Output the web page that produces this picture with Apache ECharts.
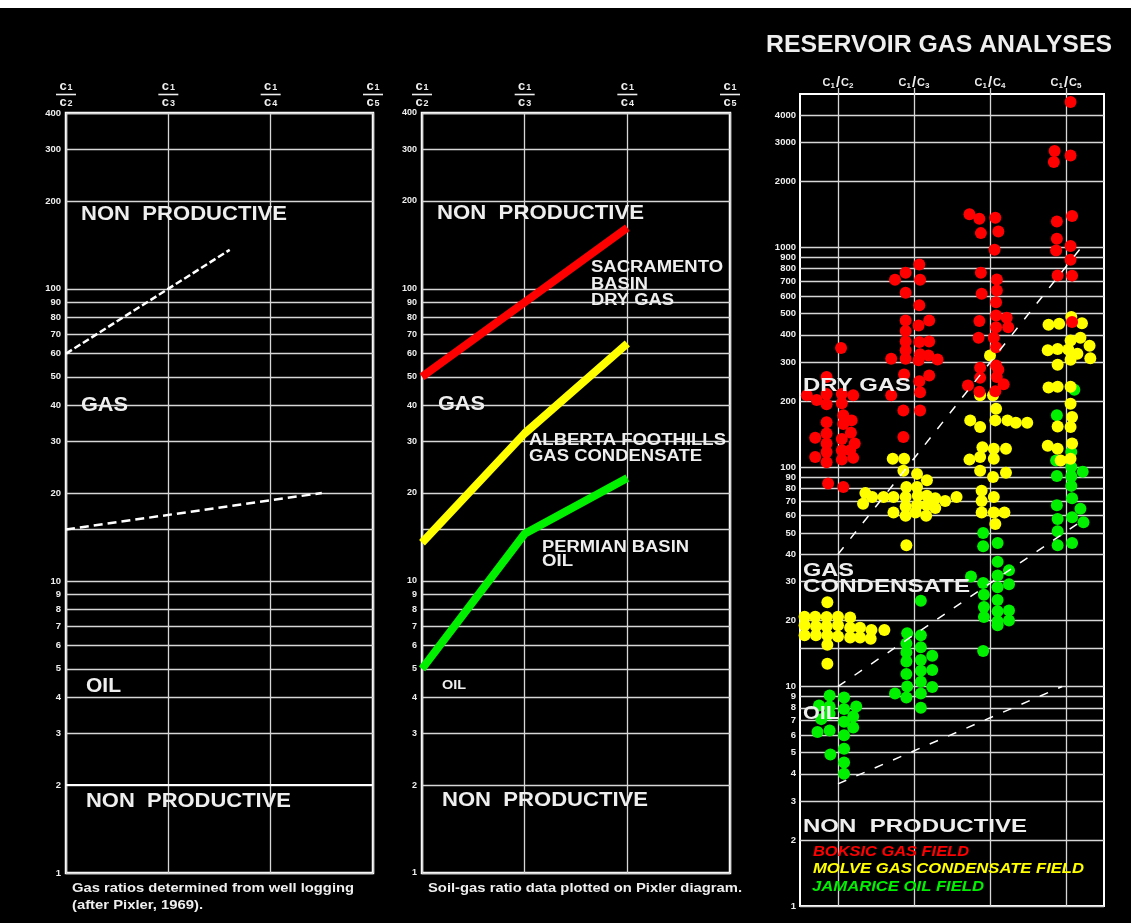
<!DOCTYPE html>
<html>
<head>
<meta charset="utf-8">
<title>Pixler ratio diagrams</title>
<script src="https://cdn.jsdelivr.net/npm/echarts@6/dist/echarts.min.js"></script>
<style>
  html, body { margin: 0; padding: 0; background: #fff; }
  #chart { width: 1137px; height: 923px; }
</style>
</head>
<body>
<div id="chart"></div>
<script>
// ---- Ratio axis (C1/Cn) ----
const ratioSubscripts = ['2', '3', '4', '5'];
const ratioNames = ['C1/C2', 'C1/C3', 'C1/C4', 'C1/C5'];

// ---- Log-scale grid values ----
const gridValuesLeft = [1, 2, 3, 4, 5, 6, 7, 8, 9, 10, 15, 20, 30, 40, 50, 60, 70, 80, 90, 100, 200, 300, 400];
const gridValuesRight = [1, 2, 3, 4, 5, 6, 7, 8, 9, 10, 15, 20, 30, 40, 50, 60, 70, 80, 90, 100,
  200, 300, 400, 500, 600, 700, 800, 900, 1000, 2000, 3000, 4000];
const unlabeledValues = [15];

// ---- Panel 1: boundaries from well logging (after Pixler, 1969) ----
const gasUpperLimit = [[0, 60], [1.6, 136]];
const gasLowerLimit = [[0, 15], [2.5, 20]];
const nonProductiveLimit = [[0, 2], [3, 2]];

// ---- Panel 2: soil-gas ratio profiles ----
const sacramentoDryGas = [50, 90, 162];
const albertaCondensate = [13.5, 32, 65];
const permianOil = [5, 14.5, 22.5];

// ---- Panel 3: field boundaries ----
const dryGasBoundary = [[0, 40], [3.2, 1000]];
const condensateBoundary = [[0, 10], [3.15, 55]];
const oilBoundary = [[0, 3.6], [2.95, 10]];

// ---- Panel 3: reservoir gas analyses [ratio position, value] ----
const boksicGasField = [
  [0.04, 348], [-0.15, 257], [-0.41, 212], [-0.28, 202], [-0.15, 215], [-0.15, 193], [0.05, 215], [0.05, 195],
  [0.20, 212], [-0.15, 160], [0.07, 172], [0.18, 163], [0.07, 157], [0.17, 143], [-0.30, 136], [-0.15, 142],
  [-0.15, 128], [0.05, 134], [0.22, 128], [-0.15, 117], [0.05, 119], [0.16, 119], [-0.30, 111], [-0.15, 105],
  [0.05, 108], [0.20, 110], [-0.13, 84], [0.07, 81],
  [1.07, 836], [0.89, 767], [0.75, 713], [1.08, 713], [0.89, 622], [1.07, 545], [0.89, 465], [1.20, 465],
  [1.06, 441], [0.89, 416], [0.89, 373], [1.07, 371], [1.20, 373], [0.89, 340], [1.08, 326], [1.19, 322],
  [0.70, 311], [0.89, 311], [1.06, 306], [1.31, 309], [1.20, 261], [0.87, 264], [1.07, 246], [1.08, 219],
  [0.70, 212], [0.86, 181], [1.08, 181], [0.86, 137],
  [1.73, 1415], [1.86, 1350], [2.07, 1365], [1.88, 1162], [2.11, 1183], [2.06, 975], [1.88, 767], [2.09, 715],
  [2.09, 637], [1.89, 615], [2.08, 563], [2.08, 490], [2.22, 478], [1.86, 462], [2.08, 433], [2.24, 433],
  [1.85, 388], [2.05, 388], [2.08, 351], [2.08, 290], [1.87, 283], [2.11, 277], [1.87, 255], [2.09, 257],
  [2.18, 238], [1.71, 235], [1.86, 220], [2.07, 221],
  [3.06, 4600], [2.85, 2750], [2.84, 2450], [3.06, 2625], [3.08, 1390], [2.88, 1313], [2.88, 1096], [3.06, 1015],
  [2.87, 969], [3.06, 879], [2.89, 745], [3.08, 744], [3.08, 457]
];
const molveCondensateField = [
  [-0.14, 24.2], [-0.44, 20.8], [-0.30, 20.8], [-0.15, 20.7], [0.0, 20.8], [0.16, 20.6], [-0.44, 19.0],
  [-0.29, 18.8], [-0.15, 18.8], [0.0, 19.0], [0.16, 18.5], [0.29, 18.5], [0.44, 18.1], [0.61, 18.1],
  [-0.44, 17.1], [-0.29, 17.1], [-0.14, 17.1], [0.0, 16.9], [0.16, 16.7], [0.29, 16.7], [0.43, 16.5],
  [-0.14, 15.5], [-0.14, 12.7],
  [0.72, 109], [0.87, 109], [0.86, 96], [1.04, 93], [1.17, 87], [0.90, 81], [1.04, 81], [0.36, 76], [0.45, 73],
  [0.60, 73], [0.73, 73], [0.89, 73], [1.05, 74], [1.17, 74], [1.28, 72], [1.41, 70], [1.56, 73], [0.33, 68],
  [0.89, 66], [1.04, 67], [1.17, 67], [1.28, 65], [0.73, 62], [0.89, 60], [1.02, 62], [1.16, 60], [0.90, 44],
  [2.0, 322], [1.87, 212], [2.04, 212], [2.08, 184], [1.74, 163], [1.87, 152], [2.07, 163], [2.23, 163],
  [2.34, 159], [2.49, 159], [1.90, 123], [2.05, 121], [2.21, 121], [1.73, 108], [1.87, 111], [2.05, 109],
  [1.87, 96], [2.04, 90], [2.21, 94], [1.89, 78], [1.89, 70], [2.05, 73], [1.89, 62], [2.05, 62], [2.19, 62],
  [2.07, 55],
  [2.77, 444], [2.91, 449], [3.07, 482], [3.21, 452], [3.06, 377], [3.19, 388], [3.31, 357], [2.76, 340],
  [2.89, 345], [3.03, 343], [3.15, 328], [3.06, 308], [3.32, 313], [2.89, 292], [2.77, 230], [2.89, 232],
  [3.06, 232], [3.06, 194], [3.08, 169], [2.89, 153], [3.06, 152], [3.08, 128], [2.76, 125], [2.89, 121],
  [3.06, 109], [2.93, 107]
];
const jamariceOilField = [
  [-0.11, 9.1], [0.08, 8.9], [-0.25, 8.2], [-0.11, 8.1], [0.08, 7.9], [0.24, 8.1], [-0.22, 7.1], [-0.11, 7.5],
  [0.08, 6.9], [0.20, 7.3], [0.20, 6.5], [-0.27, 6.2], [-0.11, 6.3], [0.08, 6.0], [0.08, 5.2], [-0.10, 4.9],
  [0.08, 4.5], [0.08, 4.0],
  [1.09, 24.6], [0.91, 17.5], [1.09, 17.1], [0.90, 15.7], [1.09, 15.1], [0.90, 14.3], [1.24, 13.8], [0.90, 13.0],
  [1.09, 13.2], [1.24, 11.9], [0.90, 11.4], [1.09, 11.8], [1.09, 10.5], [0.91, 10.0], [1.24, 9.95], [1.09, 9.3],
  [0.75, 9.3], [0.90, 8.9], [1.09, 8.0],
  [1.91, 50], [2.10, 45], [1.91, 43.5], [2.10, 37], [1.75, 31.7], [2.25, 33.8], [2.10, 32], [1.91, 29.6],
  [2.10, 28.3], [2.25, 29.2], [1.92, 26.2], [2.10, 24.8], [1.92, 23], [2.10, 22], [2.25, 22.2], [1.92, 20.7],
  [2.10, 19.8], [2.25, 20], [2.10, 19.0], [1.91, 14.5],
  [3.11, 225], [2.88, 172], [3.07, 117], [2.87, 107], [3.07, 100], [3.22, 95], [2.88, 91], [3.07, 90.5],
  [3.07, 82], [3.08, 72], [2.88, 67], [3.19, 64.5], [2.89, 58], [3.08, 59], [3.23, 56], [2.89, 51],
  [3.08, 45], [2.89, 44]
];

// ---- Styling ----
const FONT = 'Liberation Sans';
const INK = '#eeeeee';
const GRID_LINE = '#d6d6d6';
const RED = '#ff0000';
const YELLOW = '#ffff00';
const GREEN = '#00f000';

const measureCtx = document.createElement('canvas').getContext('2d');
function textWidth(text, font) {
  measureCtx.font = font;
  return measureCtx.measureText(text).width;
}

// Fraction-style header "c1 / c2" stacked over a bar
const fractionRich = {
  c: { fontFamily: FONT, fontWeight: 'bold', fontSize: 13, color: INK, lineHeight: 11 },
  d: { fontFamily: FONT, fontWeight: 'bold', fontSize: 9, color: INK, lineHeight: 11, verticalAlign: 'bottom', padding: [5, 0, 0, 1] },
  bar: { width: 20, height: 1.6, backgroundColor: INK, lineHeight: 5 }
};
function fractionLabel(v) {
  const i = Math.round(v);
  return '{c|c}{d|1}\n{bar| }\n{c|c}{d|' + ratioSubscripts[i] + '}';
}
const slashRich = {
  c: { fontFamily: FONT, fontWeight: 'bold', fontSize: 11, color: INK },
  d: { fontFamily: FONT, fontWeight: 'bold', fontSize: 8, color: INK, verticalAlign: 'bottom', padding: [4, 0, 0, 0] },
  s: { fontFamily: FONT, fontWeight: 'bold', fontSize: 15, color: INK, padding: [0, 1, 0, 1] }
};
function slashLabel(name) {
  const n = name.split('/')[1].slice(1);
  return '{c|C}{d|1}{s|/}{c|C}{d|' + n + '}';
}

// Horizontal grid lines for a log panel, with their value labels on the left
function logGridSeries(xIdx, yIdx, values, fontSize, distance) {
  return {
    type: 'line', xAxisIndex: xIdx, yAxisIndex: yIdx, data: [], silent: true,
    markLine: {
      silent: true, z: 1, animation: false,
      symbol: ['none', 'none'],
      lineStyle: { color: GRID_LINE, width: 1.3, type: 'solid' },
      label: {
        position: 'start', distance: distance, color: INK, fontFamily: FONT,
        fontWeight: 'bold', fontSize: fontSize, formatter: p => String(p.value)
      },
      emphasis: { disabled: true },
      data: values.map(v => ({ yAxis: v, label: { show: unlabeledValues.indexOf(v) < 0 } }))
    }
  };
}

function lineSeries(xIdx, yIdx, data, color, width, type, z) {
  return {
    type: 'line', xAxisIndex: xIdx, yAxisIndex: yIdx, data: data, showSymbol: false, symbol: 'none',
    silent: true, z: z, animation: false,
    lineStyle: { color: color, width: width, type: type, cap: 'butt', join: 'round' }
  };
}

function scatterSeries(name, data, color, z) {
  return {
    name: name, type: 'scatter', xAxisIndex: 2, yAxisIndex: 2, data: data, z: z,
    symbol: 'circle', symbolSize: 12, silent: true, animation: false,
    itemStyle: { color: color, opacity: 1 }
  };
}

// Text annotations: [text, left, centreY, fontSize, width, colour, italic]
const annotations = [
  ['NON  PRODUCTIVE', 81, 214, 21, 206],
  ['GAS', 81, 405, 21, 47],
  ['OIL', 86, 686, 21, 35],
  ['NON  PRODUCTIVE', 86, 801, 21, 205],
  ['NON  PRODUCTIVE', 437, 213, 21, 207],
  ['GAS', 438, 404, 21, 47],
  ['OIL', 442, 686, 12.5, 24],
  ['NON  PRODUCTIVE', 442, 800, 21, 206],
  ['SACRAMENTO', 591, 268, 16, 132],
  ['BASIN', 591, 285, 16, 57],
  ['DRY GAS', 591, 301, 16, 83],
  ['ALBERTA FOOTHILLS', 529, 441, 16, 197],
  ['GAS CONDENSATE', 529, 457, 16, 173],
  ['PERMIAN BASIN', 542, 548, 16, 147],
  ['OIL', 542, 562, 16, 31],
  ['DRY GAS', 803, 386, 19, 108],
  ['GAS', 803, 571, 19, 51],
  ['CONDENSATE', 803, 587, 19, 167],
  ['OIL', 803, 714, 19, 36],
  ['NON  PRODUCTIVE', 803, 827, 19, 224],
  ['BOKSIC GAS FIELD', 813, 852, 15.5, 156, RED, true],
  ['MOLVE GAS CONDENSATE FIELD', 813, 869, 15.5, 271, YELLOW, true],
  ['JAMARICE OIL FIELD', 812, 887, 15.5, 172, GREEN, true],
  ['RESERVOIR GAS ANALYSES', 766, 45, 24, 346],
  ['Gas ratios determined from well logging', 72, 888, 13, 282],
  ['(after Pixler, 1969).', 72, 905, 13, 131],
  ['Soil-gas ratio data plotted on Pixler diagram.', 428, 888, 13, 314]
];

const textGraphics = annotations.map(a => {
  const [text, left, cy, size, width, color, italic] = a;
  const font = (italic ? 'italic ' : '') + 'bold ' + size + 'px "' + FONT + '"';
  const natural = textWidth(text, font);
  return {
    type: 'text', x: left, y: cy, scaleX: width / natural, z: 100, silent: true,
    style: {
      text: text, fill: color || INK, fontFamily: FONT, fontWeight: 'bold',
      fontStyle: italic ? 'italic' : 'normal', fontSize: size,
      align: 'left', verticalAlign: 'middle'
    }
  };
});

// Paper margin along the top and right edges
const marginGraphics = [
  { type: 'rect', z: 200, silent: true, shape: { x: 0, y: 0, width: 1137, height: 8 }, style: { fill: '#ffffff' } },
  { type: 'rect', z: 200, silent: true, shape: { x: 1131, y: 0, width: 6, height: 923 }, style: { fill: '#ffffff' } }
];

const borderGrid = { show: true, borderColor: '#ffffff', borderWidth: 2.5, backgroundColor: 'transparent' };

const ratioAxis = gridIndex => ({
  gridIndex: gridIndex, type: 'value', min: 0, max: 3, interval: 1, position: 'top',
  axisLine: { show: false }, axisTick: { show: false },
  splitLine: { show: true, lineStyle: { color: GRID_LINE, width: 1.3 } },
  axisLabel: { margin: 5, formatter: fractionLabel, rich: fractionRich }
});

const logAxis = (gridIndex, max) => ({
  gridIndex: gridIndex, type: 'log', logBase: 10, min: 1, max: max,
  axisLine: { show: false }, axisTick: { show: false },
  axisLabel: { show: false }, splitLine: { show: false }
});

const option = {
  backgroundColor: '#000000',
  animation: false,
  grid: [
    Object.assign({ left: 66, top: 113, width: 307, height: 760 }, borderGrid),
    Object.assign({ left: 422, top: 113, width: 308, height: 760 }, borderGrid),
    Object.assign({ left: 800, top: 94, width: 304, height: 812 }, borderGrid, { borderWidth: 2 })
  ],
  xAxis: [
    ratioAxis(0),
    ratioAxis(1),
    {
      gridIndex: 2, type: 'value', min: -0.5, max: 3.5,
      axisLine: { show: false }, axisTick: { show: false }, axisLabel: { show: false }, splitLine: { show: false }
    },
    {
      gridIndex: 2, type: 'category', data: ratioNames, position: 'top', boundaryGap: true,
      axisLine: { show: false }, splitLine: { show: false },
      axisTick: { show: true, alignWithLabel: true, interval: 0, length: 6, lineStyle: { color: GRID_LINE, width: 1.3 } },
      axisLabel: { interval: 0, margin: 4, formatter: slashLabel, rich: slashRich }
    }
  ],
  yAxis: [logAxis(0, 400), logAxis(1, 400), logAxis(2, 5000)],
  graphic: textGraphics.concat(marginGraphics),
  series: [
    logGridSeries(0, 0, gridValuesLeft, 9.5, 5),
    logGridSeries(1, 1, gridValuesLeft, 9, 5),
    logGridSeries(2, 2, gridValuesRight, 9.5, 4),
    {
      type: 'line', xAxisIndex: 2, yAxisIndex: 2, data: [], silent: true,
      markLine: {
        silent: true, z: 1, animation: false, symbol: ['none', 'none'],
        lineStyle: { color: GRID_LINE, width: 1.3, type: 'solid' },
        label: { show: false },
        data: ratioNames.map((n, i) => ({ xAxis: i }))
      }
    },
    // Panel 1
    lineSeries(0, 0, gasUpperLimit, '#ffffff', 2.5, [7, 3], 4),
    lineSeries(0, 0, gasLowerLimit, '#ffffff', 2.5, [9, 5], 4),
    lineSeries(0, 0, nonProductiveLimit, '#ffffff', 2, 'solid', 4),
    // Panel 2
    lineSeries(1, 1, sacramentoDryGas.map((v, i) => [i, v]), RED, 8, 'solid', 4),
    lineSeries(1, 1, albertaCondensate.map((v, i) => [i, v]), YELLOW, 8, 'solid', 4),
    lineSeries(1, 1, permianOil.map((v, i) => [i, v]), GREEN, 8, 'solid', 4),
    // Panel 3
    scatterSeries('JAMARICE OIL FIELD', jamariceOilField, GREEN, 3),
    scatterSeries('MOLVE GAS CONDENSATE FIELD', molveCondensateField, YELLOW, 3),
    scatterSeries('BOKSIC GAS FIELD', boksicGasField, RED, 3),
    lineSeries(2, 2, dryGasBoundary, '#ffffff', 1.5, [9, 11], 5),
    lineSeries(2, 2, condensateBoundary, '#ffffff', 1.5, [9, 11], 5),
    lineSeries(2, 2, oilBoundary, '#ffffff', 1.5, [9, 11], 5)
  ]
};

const chart = echarts.init(document.getElementById('chart'), null, { renderer: 'canvas' });
chart.setOption(option);
</script>
</body>
</html>
